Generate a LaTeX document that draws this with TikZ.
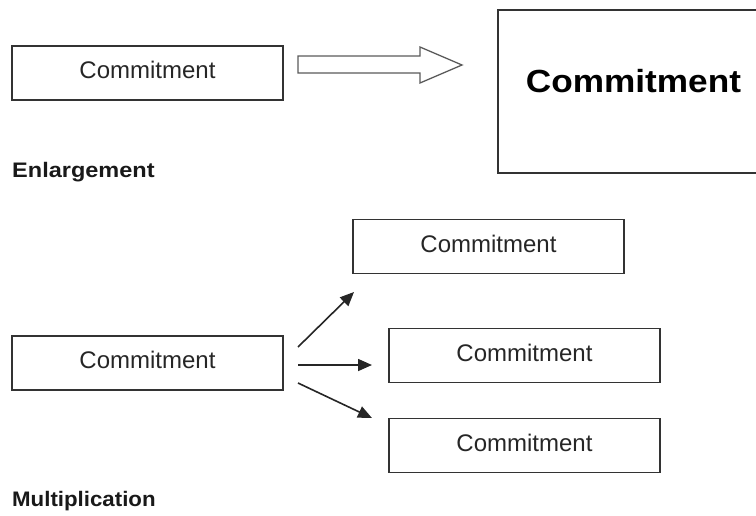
\documentclass[tikz,border=0pt]{standalone}
\usepackage{fontspec}
\setmainfont{Liberation Sans}
\usetikzlibrary{arrows.meta}
\definecolor{boxline}{HTML}{333333}
\definecolor{arrline}{HTML}{5A5A5A}
\tikzset{
  box/.style={draw=boxline, line width=1.4pt, minimum width=271pt, minimum height=54pt, inner sep=0pt, text depth=6pt, font=\fontsize{24}{28}\selectfont, text=black!85},
  bigbox/.style={draw=boxline, line width=1.4pt, minimum width=272pt, minimum height=163pt, inner sep=0pt},
  bigtext/.style={font=\fontsize{32}{38}\bfseries\selectfont, inner sep=0pt, text=black},
  caption/.style={font=\fontsize{21}{25}\bfseries\selectfont, inner sep=0pt, anchor=base west, text=black!90},
  conn/.style={draw=black!85, line width=1.6pt, -{Triangle[length=14pt,width=12pt]}},
  blockarrow/.style={draw=arrline, line width=1.3pt, fill=white}
}
\begin{document}
\begin{tikzpicture}[x=1pt,y=-1pt]
\useasboundingbox (0,0) rectangle (756,515);
% Enlargement
\node[box] (c1) at (147.5,73) {Commitment};
\node[bigbox] (big) at (634,91.5) {};
\node[bigtext] (bigt) at (633.5,81) {\scalebox{1.1}[1]{Commitment}};
\draw[blockarrow] (298,56) -- (420,56) -- (420,47) -- (462,65) -- (420,83) -- (420,73) -- (298,73) -- cycle;
\node[caption] (enl) at (12,177) {\scalebox{1.12}[1]{Enlargement}};
% Multiplication
\node[box] (src) at (147.5,363) {Commitment};
\node[box] (t1) at (488.5,246.5) {Commitment};
\node[box] (t2) at (524.5,355.5) {Commitment};
\node[box] (t3) at (524.5,445.5) {Commitment};
\coordinate (s1) at (298,347);
\coordinate (s2) at (298,365);
\coordinate (s3) at (298,383);
\coordinate (e1) at (354,292);
\coordinate (e2) at (372,365);
\coordinate (e3) at (372,418);
\draw[conn] (s1) -- (e1);
\draw[conn] (s2) -- (e2);
\draw[conn] (s3) -- (e3);
\node[caption] (mul) at (12,506) {\scalebox{1.06}[1]{Multiplication}};
\end{tikzpicture}
\end{document}
